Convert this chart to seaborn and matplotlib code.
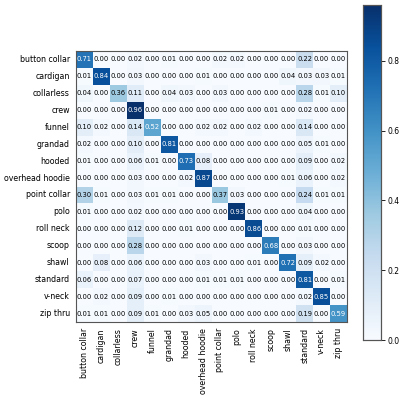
import numpy as np
import pandas as pd
import matplotlib
matplotlib.use("Agg")
import matplotlib.pyplot as plt
import seaborn as sns

labels = ["button collar", "cardigan", "collarless", "crew", "funnel", "grandad",
          "hooded", "overhead hoodie", "point collar", "polo", "roll neck", "scoop",
          "shawl", "standard", "v-neck", "zip thru"]

row_button_collar = [0.71, 0.00, 0.00, 0.02, 0.00, 0.01, 0.00, 0.00, 0.02, 0.02, 0.00, 0.00, 0.00, 0.22, 0.00, 0.00]
row_cardigan      = [0.01, 0.84, 0.00, 0.03, 0.00, 0.00, 0.00, 0.01, 0.00, 0.00, 0.00, 0.00, 0.04, 0.03, 0.03, 0.01]
row_collarless    = [0.04, 0.00, 0.36, 0.11, 0.00, 0.04, 0.03, 0.00, 0.03, 0.00, 0.00, 0.00, 0.00, 0.28, 0.01, 0.10]
row_crew          = [0.00, 0.00, 0.00, 0.96, 0.00, 0.00, 0.00, 0.00, 0.00, 0.00, 0.00, 0.01, 0.00, 0.02, 0.00, 0.00]
row_funnel        = [0.10, 0.02, 0.00, 0.14, 0.52, 0.00, 0.00, 0.02, 0.02, 0.00, 0.02, 0.00, 0.00, 0.14, 0.00, 0.00]
row_grandad       = [0.02, 0.00, 0.00, 0.10, 0.00, 0.81, 0.00, 0.00, 0.00, 0.00, 0.00, 0.00, 0.00, 0.05, 0.01, 0.00]
row_hooded        = [0.01, 0.00, 0.00, 0.06, 0.01, 0.00, 0.73, 0.08, 0.00, 0.00, 0.00, 0.00, 0.00, 0.09, 0.00, 0.02]
row_overhead      = [0.00, 0.00, 0.00, 0.03, 0.00, 0.00, 0.02, 0.87, 0.00, 0.00, 0.00, 0.00, 0.01, 0.06, 0.00, 0.02]
row_point_collar  = [0.30, 0.01, 0.00, 0.03, 0.01, 0.01, 0.00, 0.00, 0.37, 0.03, 0.00, 0.00, 0.00, 0.24, 0.01, 0.01]
row_polo          = [0.01, 0.00, 0.00, 0.02, 0.00, 0.00, 0.00, 0.00, 0.00, 0.93, 0.00, 0.00, 0.00, 0.04, 0.00, 0.00]
row_roll_neck     = [0.00, 0.00, 0.00, 0.12, 0.00, 0.00, 0.01, 0.00, 0.00, 0.00, 0.86, 0.00, 0.00, 0.01, 0.00, 0.00]
row_scoop         = [0.00, 0.00, 0.00, 0.28, 0.00, 0.00, 0.00, 0.00, 0.00, 0.00, 0.00, 0.68, 0.00, 0.03, 0.00, 0.00]
row_shawl         = [0.00, 0.08, 0.00, 0.06, 0.00, 0.00, 0.00, 0.03, 0.00, 0.00, 0.01, 0.00, 0.72, 0.09, 0.02, 0.00]
row_standard      = [0.06, 0.00, 0.00, 0.07, 0.00, 0.00, 0.00, 0.01, 0.01, 0.01, 0.00, 0.00, 0.00, 0.81, 0.00, 0.01]
row_v_neck        = [0.00, 0.02, 0.00, 0.09, 0.00, 0.01, 0.00, 0.00, 0.00, 0.00, 0.00, 0.00, 0.00, 0.02, 0.85, 0.00]
row_zip_thru      = [0.01, 0.01, 0.00, 0.09, 0.01, 0.00, 0.03, 0.05, 0.00, 0.00, 0.00, 0.00, 0.00, 0.19, 0.00, 0.59]

rows = [row_button_collar, row_cardigan, row_collarless, row_crew, row_funnel, row_grandad,
        row_hooded, row_overhead, row_point_collar, row_polo, row_roll_neck, row_scoop,
        row_shawl, row_standard, row_v_neck, row_zip_thru]
df = pd.DataFrame(rows, index=labels, columns=labels)

sns.set_style("white")
plt.rcParams['font.family'] = ['DejaVu Sans']

fig = plt.figure(figsize=(3.99, 3.98), dpi=100)
ax = fig.add_axes([76/399, 1-322/398, 271/399, 271/398])
cax = fig.add_axes([363/399, 1-340/398, 18/399, 335/398])

sns.heatmap(df, ax=ax, cbar_ax=cax, cmap="Blues", vmin=0, annot=True, fmt=".2f",
            annot_kws={"fontsize": 4.9}, square=False, linewidths=0)

thr = df.values.max() / 2
for t, v in zip(ax.texts, df.values.flatten()):
    t.set_color("white" if v > thr else "black")

for s in ax.spines.values():
    s.set_visible(True)
    s.set_color("#555555")
    s.set_linewidth(0.8)

ax.tick_params(axis='both', length=3, width=0.6, labelsize=5.7, pad=1.5,
               color="black", labelcolor="black")
ax.set_xticklabels(labels, rotation=90)
ax.set_yticklabels(labels, rotation=0)
ax.set_xlabel("")
ax.set_ylabel("")

cax.tick_params(length=3, width=0.6, labelsize=5.5, pad=1.5,
                color="black", labelcolor="black")
cax.set_yticks([0.0, 0.2, 0.4, 0.6, 0.8])
for s in cax.spines.values():
    s.set_visible(True)
    s.set_color("#555555")
    s.set_linewidth(0.8)

fig.savefig("out.png", dpi=100)
